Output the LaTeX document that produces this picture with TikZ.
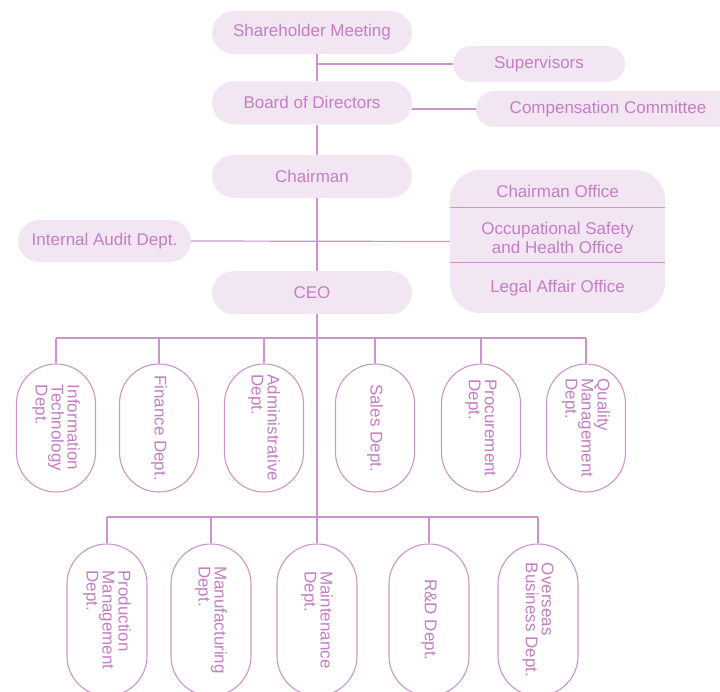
\documentclass[tikz,border=0pt]{standalone}
\usepackage{fontspec}
\setmainfont{Liberation Sans}
\usepackage{xcolor}
\usetikzlibrary{shapes,positioning}
\definecolor{orgline}{RGB}{204,148,204}
\definecolor{orgtext}{RGB}{196,126,196}
\definecolor{orgfill}{RGB}{242,230,242}
\tikzstyle{post} = [rectangle, rounded corners=21.5pt, fill=orgfill, text=orgtext, minimum width=200pt, minimum height=43pt, font=\fontsize{17}{18}\selectfont]
\tikzstyle{side} = [post, rounded corners=18pt, minimum height=36pt]
\tikzstyle{unit} = [text=orgtext, align=center, font=\fontsize{17}{19}\selectfont]
\tikzstyle{dept} = [rectangle, rounded corners=39.5pt, draw=orgline, line width=1.1pt, text=orgtext, rotate=-90, align=left, minimum width=128pt, minimum height=79pt, font=\fontsize{17}{16}\selectfont]
\tikzstyle{link} = [orgline, line width=1.2pt]

\begin{document}
\begin{tikzpicture}[x=1pt, y=-1pt]
            \useasboundingbox (0,0) rectangle (720,692);
            \coordinate (spine) at (317,0);
            \coordinate (bus1) at (0,338);
            \coordinate (bus2) at (0,517);

            % main line
            \node[post] (shareholder) at (312,32.5) {Shareholder Meeting};
            \node[post, below=27pt of shareholder] (board) {Board of Directors};
            \node[post, below=30pt of board] (chairman) {Chairman};
            \node[post, below=73pt of chairman] (ceo) {CEO};

            % side boxes
            \node[side, minimum width=172pt] (supervisors) at (539,64) {Supervisors};
            \node[side, minimum width=264pt] (compensation) at (608,109) {Compensation Committee};
            \node[post, rounded corners=21pt, minimum width=173pt, minimum height=42pt] (audit) at (104.5,241) {Internal Audit Dept.};

            \node[post, rounded corners=30pt, minimum width=215pt, minimum height=143pt] (office) at (557.5,241.5) {};
            \draw[link] ([yshift=-38pt]office.north west) -- ([yshift=-38pt]office.north east);
            \draw[link] ([yshift=-93pt]office.north west) -- ([yshift=-93pt]office.north east);
            \node[unit] (chairoffice) at (557.5,191.5) {Chairman Office};
            \node[unit] (safetyoffice) at (557.5,238) {Occupational Safety\\and Health Office};
            \node[unit] (legaloffice) at (557.5,288) {Legal Affair Office};

            % first row of departments
            \node[dept] (itdept) at (56,428) {Information\\Technology\\Dept.};
            \node[dept] (financedept) at (159,428) {Finance Dept.};
            \node[dept] (admindept) at (264,428) {Administrative\\Dept.};
            \node[dept] (salesdept) at (375,428) {Sales Dept.};
            \node[dept] (procuredept) at (481,428) {Procurement\\Dept.};
            \node[dept] (qualitydept) at (586,428) {Quality\\Management\\Dept.};

            % second row of departments
            \node[dept, minimum width=152pt, minimum height=80pt, rounded corners=40pt] (productiondept) at (107,620) {Production\\Management\\Dept.};
            \node[dept, minimum width=152pt, minimum height=80pt, rounded corners=40pt] (manufacturedept) at (211,620) {Manufacturing\\Dept.};
            \node[dept, minimum width=152pt, minimum height=80pt, rounded corners=40pt] (maintaindept) at (317,620) {Maintenance\\Dept.};
            \node[dept, minimum width=152pt, minimum height=80pt, rounded corners=40pt] (rnddept) at (429,620) {R\&D Dept.};
            \node[dept, minimum width=152pt, minimum height=80pt, rounded corners=40pt] (overseasdept) at (538,620) {Overseas\\Business Dept.};

            % trunk
            \draw[link] (shareholder.south -| spine) -- (board.north -| spine);
            \draw[link] (board.south -| spine) -- (chairman.north -| spine);
            \draw[link] (chairman.south -| spine) -- (ceo.north -| spine);
            \draw[link] (ceo.south -| spine) -- (maintaindept.west);

            \draw[link] (supervisors.west -| spine) -- (supervisors.west);
            \draw[link] (board.east |- compensation.west) -- (compensation.west);
            \draw[link] (audit.east) -- (office.west);

            % first bus
            \draw[link] (itdept.west |- bus1) -- (qualitydept.west |- bus1);
            \draw[link] (itdept.west |- bus1) -- (itdept.west);
            \draw[link] (financedept.west |- bus1) -- (financedept.west);
            \draw[link] (admindept.west |- bus1) -- (admindept.west);
            \draw[link] (salesdept.west |- bus1) -- (salesdept.west);
            \draw[link] (procuredept.west |- bus1) -- (procuredept.west);
            \draw[link] (qualitydept.west |- bus1) -- (qualitydept.west);

            % second bus
            \draw[link] (productiondept.west |- bus2) -- (overseasdept.west |- bus2);
            \draw[link] (productiondept.west |- bus2) -- (productiondept.west);
            \draw[link] (manufacturedept.west |- bus2) -- (manufacturedept.west);
            \draw[link] (rnddept.west |- bus2) -- (rnddept.west);
            \draw[link] (overseasdept.west |- bus2) -- (overseasdept.west);
        \end{tikzpicture}
\end{document}
